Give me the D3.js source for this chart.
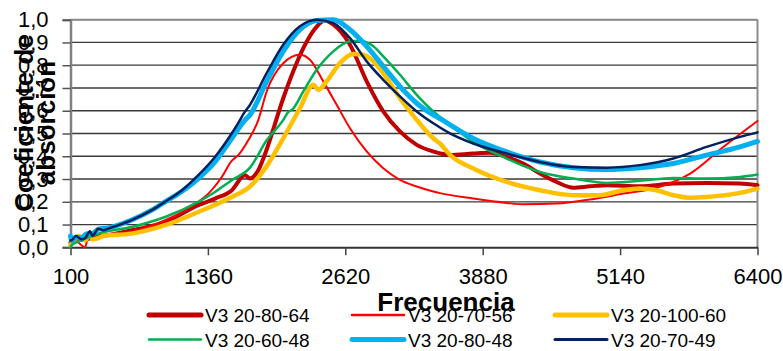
<!DOCTYPE html>
<html><head><meta charset="utf-8">
<script src="https://cdn.jsdelivr.net/npm/d3@7"></script>
<style>body{margin:0;background:#fff}svg{display:block;font-family:"Liberation Sans",Arial,sans-serif}</style>
</head><body><svg id="c" width="783" height="351"></svg>
<script>
const seriesNames = ["V3 20-80-64","V3 20-70-56","V3 20-100-60","V3 20-60-48","V3 20-80-48","V3 20-70-49"];
const xTicks = [100,1360,2620,3880,5140,6400];
const yTicks = [0,0.1,0.2,0.3,0.4,0.5,0.6,0.7,0.8,0.9,1.0];

const f_80_64 = [100,140,233,355,661,967,1272,1425,1578,1700,1746,1822,1884,2051,2143,2235,2358,2434,2510,2663,2816,2968,3121,3275,3427,3580,3794,3947,4100,4252,4405,4558,4711,4864,5017,5322,5628,5934,6239,6400];
const v_80_64 = [0.02,0.03,0.035,0.045,0.075,0.111,0.185,0.214,0.25,0.317,0.302,0.339,0.41,0.655,0.773,0.875,0.97,0.996,0.978,0.89,0.729,0.597,0.509,0.45,0.421,0.406,0.412,0.415,0.397,0.368,0.324,0.287,0.262,0.268,0.273,0.268,0.28,0.283,0.28,0.273];

const f_70_56 = [100,140,233,260,355,661,967,1120,1272,1364,1487,1578,1639,1730,1822,1899,2051,2204,2296,2418,2541,2663,2816,2968,3121,3275,3427,3488,3794,4100,4252,4558,4864,5169,5475,5782,6086,6400];
const v_70_56 = [0.03,0.03,0.0,0.04,0.053,0.067,0.119,0.155,0.2,0.236,0.309,0.38,0.405,0.47,0.559,0.685,0.809,0.846,0.824,0.729,0.626,0.523,0.421,0.347,0.296,0.267,0.245,0.238,0.214,0.195,0.189,0.192,0.21,0.236,0.262,0.324,0.441,0.555];

const f_100_60 = [100,130,180,233,280,300,355,400,661,967,1272,1578,1746,1890,2051,2204,2327,2372,2449,2571,2693,2785,2877,2968,3121,3275,3427,3488,3580,3794,4100,4405,4711,4956,5169,5322,5475,5628,5782,5934,6239,6400];
const v_100_60 = [0.01,0.03,0.05,0.03,0.06,0.035,0.04,0.05,0.06,0.097,0.155,0.221,0.267,0.35,0.479,0.611,0.714,0.692,0.729,0.809,0.849,0.846,0.817,0.765,0.655,0.56,0.479,0.456,0.406,0.346,0.287,0.251,0.229,0.229,0.251,0.258,0.251,0.229,0.218,0.221,0.239,0.258];

const f_60_48 = [100,111,200,355,661,967,1272,1425,1578,1746,1899,2051,2090,2143,2235,2358,2510,2663,2755,2877,2968,3121,3275,3427,3580,3794,4100,4405,4711,5017,5322,5628,5934,6239,6400];
const v_60_48 = [0.0,0.01,0.03,0.06,0.089,0.133,0.2,0.243,0.295,0.35,0.47,0.56,0.59,0.61,0.685,0.78,0.861,0.905,0.908,0.883,0.839,0.758,0.67,0.597,0.54,0.463,0.39,0.331,0.302,0.283,0.292,0.305,0.302,0.309,0.32];

const f_80_48 = [100,111,150,200,250,300,355,447,661,845,967,1120,1272,1425,1578,1700,1746,1899,2051,2204,2358,2510,2663,2816,2968,3121,3275,3427,3488,3794,4100,4405,4711,5017,5322,5628,5934,6239,6400];
const v_80_48 = [0.05,0.03,0.045,0.04,0.06,0.06,0.08,0.085,0.12,0.163,0.2,0.245,0.302,0.375,0.478,0.559,0.582,0.729,0.861,0.956,0.996,1.0,0.956,0.883,0.795,0.707,0.633,0.582,0.565,0.478,0.419,0.375,0.35,0.342,0.35,0.368,0.405,0.441,0.465];

const f_70_49 = [100,111,150,200,233,280,300,355,400,447,661,845,967,1120,1272,1425,1578,1654,1685,1746,1899,2051,2204,2358,2510,2663,2816,2968,3121,3275,3427,3580,3794,4100,4405,4711,5017,5322,5628,5934,6239,6400];
const v_70_49 = [0.03,0.031,0.05,0.035,0.04,0.07,0.05,0.082,0.075,0.082,0.119,0.163,0.2,0.25,0.317,0.397,0.5,0.559,0.585,0.626,0.765,0.89,0.971,1.0,0.985,0.919,0.817,0.736,0.663,0.597,0.545,0.501,0.456,0.412,0.375,0.353,0.35,0.361,0.39,0.441,0.485,0.505];

const seriesFreqs = [f_80_64,f_70_56,f_100_60,f_60_48,f_80_48,f_70_49];
const seriesVals = [v_80_64,v_70_56,v_100_60,v_60_48,v_80_48,v_70_49];
const colors = ["#C00000","#FF0000","#FFC000","#00B050","#00B0F0","#002060"];
const widths = [4,2,4.5,2.5,5,2.5];
const legendWidths = [5,2.5,5,2.5,5,3];

const svg = d3.select("#c");
const L=70.5,R=757.5,T=19.7,B=247.3;
const x = d3.scaleLinear().domain([100,6400]).range([L,R]);
const y = d3.scaleLinear().domain([0,1]).range([B,T]);
const fmt = v => d3.format(".1f")(v).replace(".",",");

// gridlines
svg.append("g").selectAll("line").data(yTicks.slice(1)).join("line")
  .attr("x1",L).attr("x2",R).attr("y1",d=>y(d)).attr("y2",d=>y(d))
  .attr("stroke","#3a3a3a").attr("stroke-width",1.3);
// right & top border
svg.append("line").attr("x1",R).attr("x2",R).attr("y1",T).attr("y2",B).attr("stroke","#8c8c8c").attr("stroke-width",2);
svg.append("line").attr("x1",L).attr("x2",R).attr("y1",T).attr("y2",T).attr("stroke","#8c8c8c").attr("stroke-width",2);

// y axis
const yAxis = svg.append("g").attr("transform",`translate(${L},0)`)
  .call(d3.axisLeft(y).tickValues(yTicks).tickFormat(fmt).tickSize(8).tickPadding(14));
yAxis.select(".domain").attr("stroke","#808080").attr("stroke-width",2.5);
yAxis.selectAll(".tick line").attr("stroke","#555").attr("stroke-width",1.5);
yAxis.selectAll("text").attr("font-size",22).attr("font-family","Liberation Sans, Arial").attr("fill","#000");

// x axis
const xAxis = svg.append("g").attr("transform",`translate(0,${B})`)
  .call(d3.axisBottom(x).tickValues(xTicks).tickFormat(d=>d).tickSize(8).tickSizeOuter(0).tickPadding(13));
xAxis.select(".domain").attr("stroke","#333").attr("stroke-width",2);
xAxis.selectAll(".tick line").attr("stroke","#444").attr("stroke-width",1.5);
xAxis.selectAll("text").attr("font-size",22).attr("font-family","Liberation Sans, Arial").attr("fill","#000");

// series
const line = d3.line().x(d=>x(d[0])).y(d=>y(d[1])).curve(d3.curveMonotoneX);
seriesNames.forEach((n,i)=>{
  const pts = seriesFreqs[i].map((f,j)=>[f,seriesVals[i][j]]);
  svg.append("path").datum(pts).attr("d",line).attr("fill","none")
    .attr("stroke",colors[i]).attr("stroke-width",widths[i]).attr("stroke-linejoin","round").attr("stroke-linecap","round");
});

// x title
svg.append("text").attr("x",446).attr("y",311).attr("text-anchor","middle")
  .attr("font-size",26).attr("font-weight","bold").text("Frecuencia");

// y title (two lines)
const yt = svg.append("text").attr("transform","translate(0,123) rotate(-90)")
  .attr("text-anchor","middle").attr("font-size",26).attr("font-weight","bold");
yt.append("tspan").attr("x",0).attr("y",33).text("Coeficiente de");
yt.append("tspan").attr("x",0).attr("y",55).text("absorción");

// legend
const legX = [149,352,555], legY = [315,339.5];
seriesNames.forEach((n,i)=>{
  const c = i%3, r = Math.floor(i/3);
  const g = svg.append("g").attr("transform",`translate(${legX[c]},${legY[r]})`);
  g.append("line").attr("x1",0).attr("x2",52).attr("y1",0).attr("y2",0)
    .attr("stroke",colors[i]).attr("stroke-width",legendWidths[i]).attr("stroke-linecap","round");
  g.append("text").attr("x",56).attr("y",7).attr("font-size",19).text(n);
});
</script></body></html>
